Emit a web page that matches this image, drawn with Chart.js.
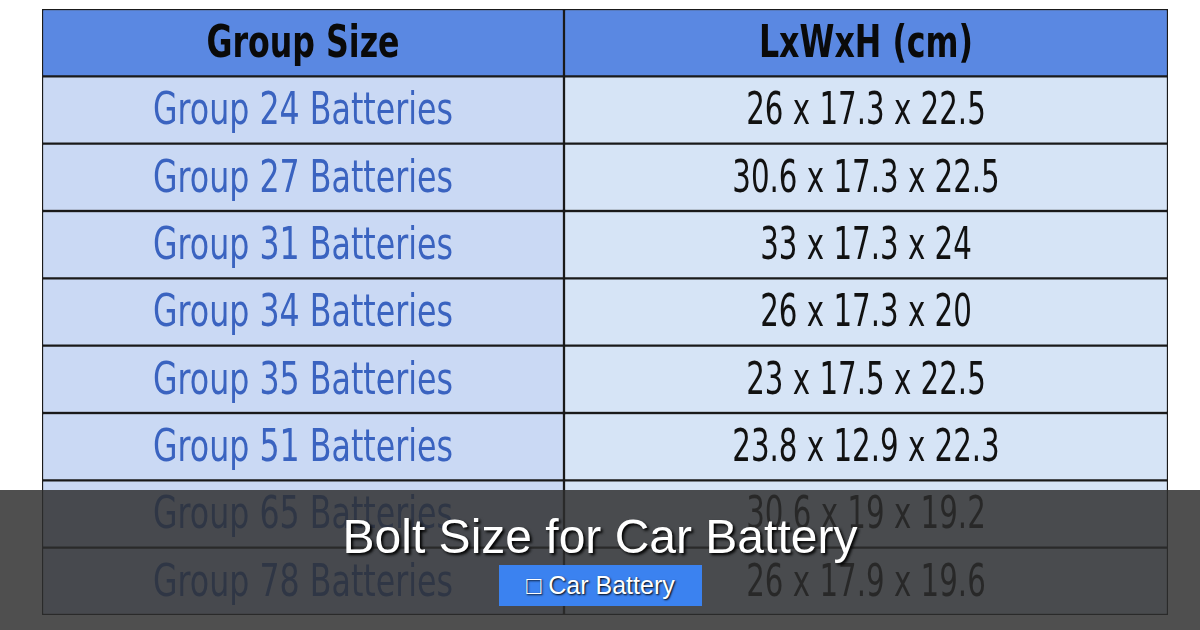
<!DOCTYPE html>
<html>
<head>
<meta charset="utf-8">
<script src="https://cdn.jsdelivr.net/npm/chart.js@4"></script>
<style>
body { margin: 0; width: 1200px; height: 630px; background: #fff; overflow: hidden; position: relative; }
#wrap { position: absolute; left: 0; top: 0; width: 1200px; height: 630px; }
#band { position: absolute; left: 0; top: 490px; width: 1200px; height: 140px; background: rgba(45,45,45,0.84); }
#title { position: absolute; left: 0; width: 1200px; top: 509px; text-align: center; color: #fff;
  font: 48px "Liberation Sans", Arial, sans-serif; text-shadow: 2px 2px 3px #000; }
#tag { position: absolute; left: 499px; top: 565px; width: 203px; height: 41px; background: #3b82f0; color: #fff;
  font: 25px "Liberation Sans", Arial, sans-serif; line-height: 41px; text-align: center; text-shadow: 1px 1px 2px #000; }
</style>
</head>
<body>
<div id="wrap"><canvas id="table"></canvas></div>
<div id="band"></div>
<div id="title">Bolt Size for Car Battery</div>
<div id="tag">&#9633; Car Battery</div>
<script>
// data
const headers = ['Group Size', 'LxWxH (cm)']
const groups = ['Group 24 Batteries', 'Group 27 Batteries', 'Group 31 Batteries', 'Group 34 Batteries',
  'Group 35 Batteries', 'Group 51 Batteries', 'Group 65 Batteries', 'Group 78 Batteries']
const sizes = ['26 x 17.3 x 22.5', '30.6 x 17.3 x 22.5', '33 x 17.3 x 24', '26 x 17.3 x 20',
  '23 x 17.5 x 22.5', '23.8 x 12.9 x 22.3', '30.6 x 19 x 19.2', '26 x 17.9 x 19.6']

// layout
const colWidths = [522, 604]
const rows = ['header'].concat(groups)
const leftCol = [headers[0]].concat(groups)
const rightCol = [headers[1]].concat(sizes)
const fontFamily = '"DejaVu Sans Condensed", "DejaVu Sans", sans-serif'

const cellText = {
    id: 'cellText',
    afterDatasetsDraw(chart) {
        const ctx = chart.ctx
        const cols = [leftCol, rightCol]
        cols.forEach((texts, d) => {
            chart.getDatasetMeta(d).data.forEach((bar, i) => {
                const cx = (bar.x + bar.base) / 2
                ctx.save()
                ctx.translate(cx, bar.y + 3)
                ctx.scale(d === 1 && i > 0 ? 0.74 : 0.8, 1)
                ctx.textAlign = 'center'
                ctx.textBaseline = 'middle'
                if (i === 0) {
                    ctx.font = 'bold 44px ' + fontFamily
                    ctx.fillStyle = '#0a0a0a'
                } else {
                    ctx.font = '44px ' + fontFamily
                    ctx.fillStyle = d === 0 ? '#3a63c0' : '#111'
                }
                ctx.fillText(texts[i], 0, 0)
                ctx.restore()
            })
        })
    }
}

new Chart(document.getElementById('table'), {
    type: 'bar',
    data: {
        labels: rows,
        datasets: [
            {
                data: rows.map(() => colWidths[0]),
                backgroundColor: rows.map((r, i) => i === 0 ? '#5a88e2' : '#cad9f4'),
                borderColor: '#1a1a1a', borderWidth: 1.5, borderSkipped: false,
                barPercentage: 1, categoryPercentage: 1
            },
            {
                data: rows.map(() => colWidths[1]),
                backgroundColor: rows.map((r, i) => i === 0 ? '#5a88e2' : '#d6e4f6'),
                borderColor: '#1a1a1a', borderWidth: 1.5, borderSkipped: false,
                barPercentage: 1, categoryPercentage: 1
            }
        ]
    },
    options: {
        indexAxis: 'y',
        responsive: true,
        maintainAspectRatio: false,
        animation: false,
        layout: { padding: { left: 42, right: 32, top: 9, bottom: 15 } },
        plugins: { legend: { display: false }, tooltip: { enabled: false } },
        scales: {
            x: { stacked: true, display: false, min: 0, max: colWidths[0] + colWidths[1] },
            y: { stacked: true, display: false }
        }
    },
    plugins: [cellText]
})
</script>
</body>
</html>
